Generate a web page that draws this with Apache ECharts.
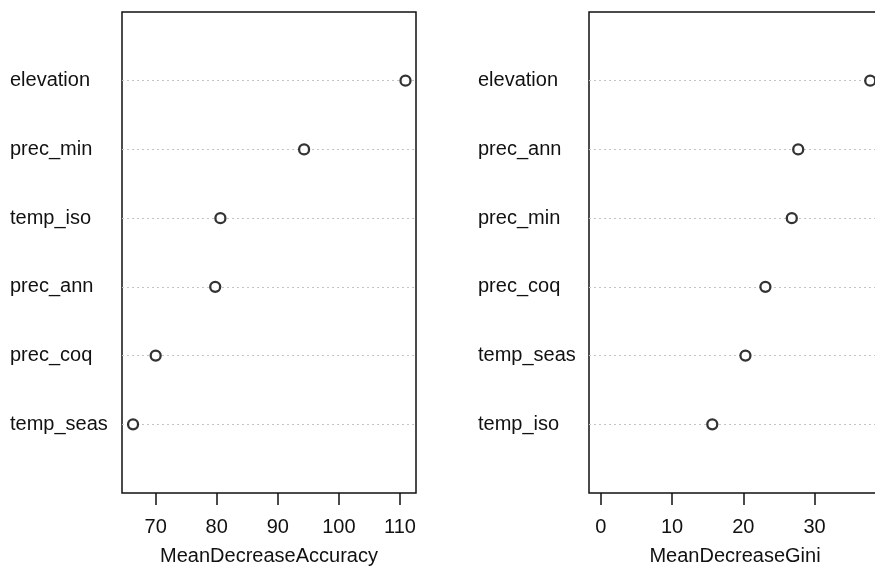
<!DOCTYPE html>
<html>
<head>
<meta charset="utf-8">
<script src="https://cdn.jsdelivr.net/npm/echarts@6/dist/echarts.min.js"></script>
<style>
html,body{margin:0;padding:0;background:#fff;}
#chart{width:875px;height:569px;}
</style>
</head>
<body>
<div id="chart"></div>
<script>
// Data (rows listed bottom to top)
const accVariables = ['temp_seas', 'prec_coq', 'prec_ann', 'temp_iso', 'prec_min', 'elevation'];
const meanDecreaseAccuracy = [66.3, 70.0, 79.75, 80.6, 94.3, 110.9];
const giniVariables = ['temp_iso', 'temp_seas', 'prec_coq', 'prec_min', 'prec_ann', 'elevation'];
const meanDecreaseGini = [15.65, 20.3, 23.1, 26.8, 27.7, 37.8];
const accTicks = [70, 80, 90, 100, 110];
const giniTicks = [0, 10, 20, 30];

const FONT = "'Liberation Sans', Arial, Helvetica, sans-serif";
const chart = echarts.init(document.getElementById('chart'), null, {renderer: 'canvas'});

function yAxisFor(names, gridIndex, margin) {
  const cats = [''].concat(names).concat(['']);
  return {
    type: 'category',
    gridIndex: gridIndex,
    data: cats,
    boundaryGap: false,
    axisLine: {show: false},
    axisTick: {show: false},
    axisLabel: {
      interval: 0, align: 'left', margin: margin,
      padding: [4, 0, 0, 0],
      color: '#111', fontSize: 20, fontFamily: FONT
    },
    splitLine: {
      show: true,
      interval: function (i) { return i > 0 && i < cats.length - 1; },
      lineStyle: {type: [2, 3], color: '#c4c4c4', width: 1.2}
    }
  };
}

function xAxisFor(gridIndex, min, max, ticks, name) {
  return {
    type: 'value',
    gridIndex: gridIndex,
    min: min, max: max,
    axisLine: {show: false},
    splitLine: {show: false},
    axisTick: {
      show: true, inside: false, length: 12, customValues: ticks,
      lineStyle: {color: '#111', width: 1.5}
    },
    axisLabel: {
      customValues: ticks, margin: 24,
      color: '#111', fontSize: 20, fontFamily: FONT
    },
    name: name,
    nameLocation: 'middle',
    nameGap: 53,
    nameTextStyle: {color: '#111', fontSize: 20, fontFamily: FONT}
  };
}

const dotStyle = {color: '#fff', borderColor: '#000', borderWidth: 2.3};

chart.setOption({
  backgroundColor: '#fff',
  animation: false,
  grid: [
    {left: 122, width: 294, top: 12, height: 481, show: true, borderColor: '#111', borderWidth: 1.5, backgroundColor: 'transparent', outerBoundsMode: 'none', containLabel: false},
    {left: 589, width: 292, top: 12, height: 481, show: true, borderColor: '#111', borderWidth: 1.5, backgroundColor: 'transparent', outerBoundsMode: 'none', containLabel: false}
  ],
  xAxis: [
    xAxisFor(0, 64.49, 112.62, accTicks, 'MeanDecreaseAccuracy'),
    xAxisFor(1, -1.64, 39.31, giniTicks, 'MeanDecreaseGini')
  ],
  yAxis: [
    yAxisFor(accVariables, 0, 112),
    yAxisFor(giniVariables, 1, 111)
  ],
  series: [
    {
      type: 'scatter', xAxisIndex: 0, yAxisIndex: 0,
      symbol: 'circle', symbolSize: 10, itemStyle: dotStyle,
      data: accVariables.map((n, i) => [meanDecreaseAccuracy[i], n])
    },
    {
      type: 'scatter', xAxisIndex: 1, yAxisIndex: 1,
      symbol: 'circle', symbolSize: 10, itemStyle: dotStyle,
      data: giniVariables.map((n, i) => [meanDecreaseGini[i], n])
    }
  ]
});
</script>
</body>
</html>
